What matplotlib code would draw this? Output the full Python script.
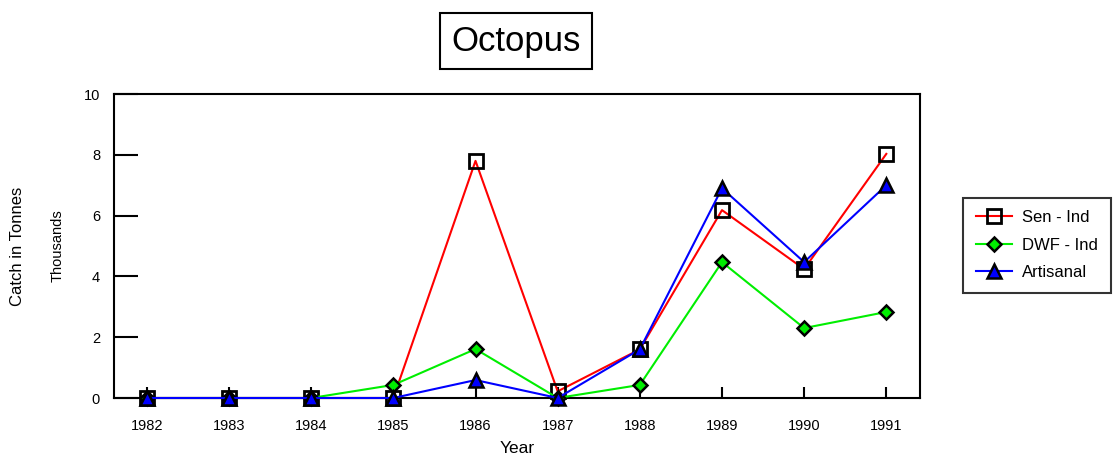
import matplotlib.pyplot as plt

plt.rcParams['font.family'] = ['Liberation Sans', 'DejaVu Sans']

years = [1982, 1983, 1984, 1985, 1986, 1987, 1988, 1989, 1990, 1991]
sen_ind = [0, 0, 0, 0, 7.8, 0.22, 1.6, 6.18, 4.24, 8.03]
dwf_ind = [0, 0, 0, 0.43, 1.61, 0, 0.43, 4.47, 2.3, 2.83]
artisanal = [0, 0, 0, 0, 0.59, 0, 1.6, 6.9, 4.47, 7.0]

fig = plt.figure(figsize=(11.16, 4.57), dpi=100)
ax = fig.add_axes([114/1116, 1 - 398/457, (920-114)/1116, (398-94)/457])

ax.plot(years, sen_ind, color='red', lw=1.5, marker='s', ms=10,
        mfc='none', mec='black', mew=2, label='Sen - Ind', clip_on=False, zorder=3)
ax.plot(years, dwf_ind, color='#00ee00', lw=1.5, marker='D', ms=7,
        mfc='#00ee00', mec='black', mew=1.8, label='DWF - Ind', clip_on=False, zorder=4)
ax.plot(years, artisanal, color='blue', lw=1.5, marker='^', ms=10,
        mfc='blue', mec='black', mew=1.8, label='Artisanal', clip_on=False, zorder=5)

ax.set_xlim(1981.6, 1991.41)
ax.set_ylim(0, 10)
ax.set_xticks(years)
ax.set_yticks([0, 2, 4, 6, 8, 10])
ax.tick_params(axis='y', direction='in', length=17, width=1.5, labelsize=10.5, pad=10)
ax.tick_params(axis='x', direction='in', length=8, width=1.5, labelsize=10.5, pad=15)
for s in ax.spines.values():
    s.set_linewidth(1.5)

ax.set_xlabel('Year', fontsize=12.5, labelpad=6)
ax.set_ylabel('Thousands', fontsize=10.5, labelpad=14)
fig.text(18/1116, 1 - 246/457, 'Catch in Tonnes', rotation=90, fontsize=12,
         ha='center', va='center')

fig.text(516/1116, 1 - 41/457, 'Octopus', fontsize=25, ha='center', va='center',
         bbox=dict(facecolor='white', edgecolor='black', lw=1.5, pad=8))

leg = fig.legend(loc='center', bbox_to_anchor=(1037/1116, 1 - 245/457), fontsize=12,
                 frameon=True, fancybox=False, edgecolor='black', handlelength=2.2,
                 handletextpad=0.6, borderpad=0.75, labelspacing=0.75)
leg.get_frame().set_linewidth(1.5)

fig.savefig('out.png', dpi=100)
